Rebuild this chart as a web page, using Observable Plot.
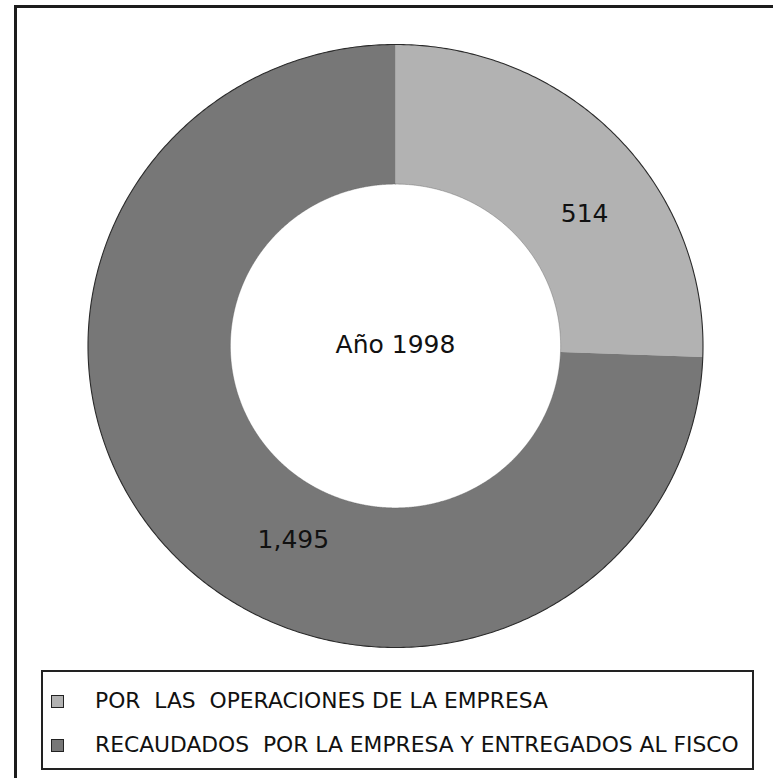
<!DOCTYPE html>
<html>
<head>
<meta charset="utf-8">
<script src="https://cdn.jsdelivr.net/npm/d3@7"></script>
<script src="https://cdn.jsdelivr.net/npm/@observablehq/plot@0.6"></script>
<style>
  html, body { margin: 0; padding: 0; background: #fff; overflow: hidden; }
  #wrap { position: relative; width: 773px; height: 778px; overflow: hidden; font-family: "DejaVu Sans", Verdana, sans-serif; }
  #frame { position: absolute; left: 14px; top: 5px; width: 800px; height: 800px; border: 3px solid #1c1c1c; box-sizing: border-box; }
  #chart { position: absolute; left: 0; top: 0; }
  #legend { position: absolute; left: 41px; top: 670px; width: 713px; height: 100px; border: 2px solid #222; box-sizing: border-box; background: #fff; }
  .sw { position: absolute; width: 13px; height: 13px; border: 1px solid #222; box-sizing: border-box; }
  .lt { position: absolute; font-size: 21.8px; white-space: pre; color: #111; line-height: 1; }
</style>
</head>
<body>
<div id="wrap">
  <div id="frame"></div>
  <div id="chart"></div>
  <div id="legend"></div>
</div>
<script>
// ---- data ----
const categories = ["POR  LAS  OPERACIONES DE LA EMPRESA", "RECAUDADOS  POR LA EMPRESA Y ENTREGADOS AL FISCO"];
const values = [514, 1495];
const centerLabel = "Año 1998";

const colors = ["#b2b2b2", "#777777"];
const innerRatio = 0.537;

const rows = categories.map((c, i) => ({category: c, value: values[i]}));
const pie = d3.pie().sort(null).value(d => d.value).startAngle(0).endAngle(2 * Math.PI)(rows);

// polygon vertices for each ring slice (unit coordinates, resolved by Plot scales)
const ringPts = [];
pie.forEach(p => {
  const n = Math.max(8, Math.ceil((p.endAngle - p.startAngle) / 0.005));
  for (let k = 0; k <= n; k++) {
    const a = p.startAngle + (p.endAngle - p.startAngle) * k / n;
    ringPts.push({category: p.data.category, x: Math.sin(a), y: Math.cos(a)});
  }
  for (let k = n; k >= 0; k--) {
    const a = p.startAngle + (p.endAngle - p.startAngle) * k / n;
    ringPts.push({category: p.data.category, x: innerRatio * Math.sin(a), y: innerRatio * Math.cos(a)});
  }
});
const outline = [];
const innerLine = [];
for (let k = 0; k <= 720; k++) {
  const a = 2 * Math.PI * k / 720;
  outline.push({x: Math.sin(a), y: Math.cos(a)});
  innerLine.push({x: innerRatio * Math.sin(a), y: innerRatio * Math.cos(a)});
}
const rMid = (1 + innerRatio) / 2;
const labels = pie.map(p => {
  const a = (p.startAngle + p.endAngle) / 2;
  return {text: d3.format(",")(p.data.value), x: rMid * Math.sin(a), y: rMid * Math.cos(a)};
});
const labelOffsets = [[19, 29], [68, 33]];

const cx = 395, cy = 345.5, rx = 307.5, ry = 301.5;

const plot = Plot.plot({
  width: 773,
  height: 778,
  margin: 0,
  style: {background: "transparent", fontFamily: "DejaVu Sans, Verdana, sans-serif"},
  x: {domain: [-1, 1], range: [cx - rx, cx + rx], axis: null},
  y: {domain: [-1, 1], range: [cy + ry, cy - ry], axis: null},
  color: {domain: categories, range: colors},
  marks: [
    Plot.line(ringPts, {x: "x", y: "y", z: "category", fill: "category", stroke: "none", curve: "linear"}),
    Plot.line(innerLine, {x: "x", y: "y", stroke: "#555", strokeWidth: 0.6, strokeOpacity: 0.6}),
    Plot.line(outline, {x: "x", y: "y", stroke: "#2a2a2a", strokeWidth: 1.1}),
    Plot.text([labels[0]], {x: "x", y: "y", text: "text", fontSize: 25, fill: "#111", dx: labelOffsets[0][0], dy: labelOffsets[0][1]}),
    Plot.text([labels[1]], {x: "x", y: "y", text: "text", fontSize: 25, fill: "#111", dx: labelOffsets[1][0], dy: labelOffsets[1][1]}),
    Plot.text([centerLabel], {x: () => 0, y: () => 0, text: d => d, fontSize: 25, fill: "#111", dy: -1})
  ]
});
document.getElementById("chart").appendChild(plot);

// legend
const legend = document.getElementById("legend");
const rowTops = [22, 66];
categories.forEach((c, i) => {
  const sw = document.createElement("div");
  sw.className = "sw";
  sw.style.left = "8px";
  sw.style.top = (rowTops[i] + 1) + "px";
  sw.style.background = colors[i];
  legend.appendChild(sw);
  const t = document.createElement("div");
  t.className = "lt";
  t.style.left = "52px";
  t.style.top = (rowTops[i] - 4) + "px";
  t.textContent = c;
  legend.appendChild(t);
});
</script>
</body>
</html>
